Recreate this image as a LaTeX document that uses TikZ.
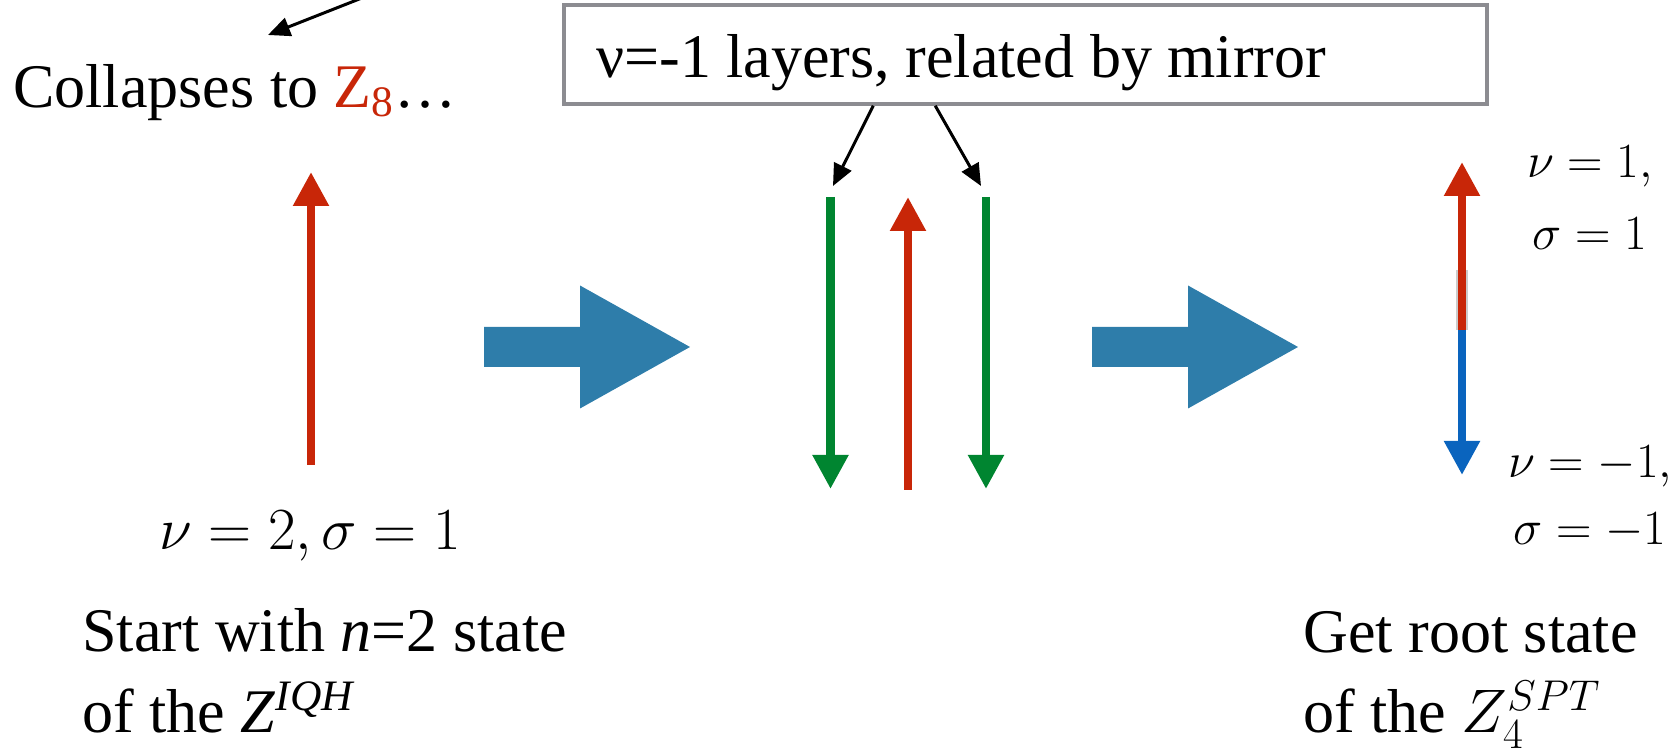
\RequirePackage{fix-cm}
\documentclass[tikz,border=0pt]{standalone}
\usepackage{fontspec}
\setmainfont{Liberation Serif}
\usetikzlibrary{arrows.meta,calc}

\definecolor{layerred}{RGB}{200,38,8}
\definecolor{layergreen}{RGB}{0,133,48}
\definecolor{layerblue}{RGB}{10,100,190}
\definecolor{stepblue}{RGB}{46,125,170}
\definecolor{framegray}{RGB}{140,140,145}

\tikzset{
  layer/.style={line width=4.7pt, -{Triangle[length=0.68cm,width=0.68cm]}},
  pointer/.style={line width=1.7pt, -{Triangle[length=0.44cm,width=0.38cm]}},
  txt/.style={font=\fontsize{35.3}{45}\selectfont, inner sep=0pt},
  lbl/.style={font=\fontsize{28}{34}\selectfont, inner sep=0pt}
}

\begin{document}
\begin{tikzpicture}
  \useasboundingbox (0,0) rectangle (33.56,15.1);

  % note in the top left corner
  \coordinate (from) at (7.39,15.2);
  \coordinate (to) at (5.36,14.4);
  \draw[pointer] (from) -- (to);
  \node[txt, anchor=base west] (collapse) at (0.26,12.95)
    {Collapses to \textcolor{layerred}{Z\textsubscript{8}}…};

  % framed caption over the middle layers
  \node[draw=framegray, line width=2pt, minimum width=18.46cm, minimum height=1.98cm]
    (frame) at (20.51,14.01) {};
  \node[txt, anchor=base west] (caption) at (11.92,13.54) {ν=-1 layers, related by mirror};
  \coordinate (tipl) at (16.66,11.38);
  \coordinate (tipr) at (19.62,11.38);
  \draw[pointer] ($(frame.south west)+(6.22,0)$) -- (tipl);
  \draw[pointer] ($(frame.south west)+(7.46,0)$) -- (tipr);

  % starting layer
  \draw[layer, layerred] (6.22,5.8) -- (6.22,11.66);
  \node[lbl, font=\fontsize{34}{40}\selectfont, anchor=base] (start) at (6.2,4.1)
    {$\nu = 2, \sigma = 1$};

  % the big steps
  \foreach \x in {9.68,21.84}
    \fill[stepblue] (\x,7.76) -- ++(1.92,0) -- ++(0,-0.83) -- ++(2.2,1.23)
      -- ++(-2.2,1.23) -- ++(0,-0.83) -- ++(-1.92,0) -- cycle;

  % three layers
  \foreach \x/\c/\a/\b in {16.61/layergreen/11.16/5.32, 18.16/layerred/5.3/11.16,
                           19.72/layergreen/11.16/5.32}
    \draw[layer, \c] (\x,\a) -- (\x,\b);

  % root state
  \draw[line width=7pt, black, opacity=0.2] (29.24,8.5) -- (29.24,9.7);
  \draw[layer, layerred] (29.24,8.5) -- (29.24,11.86);
  \draw[layer, layerblue] (29.24,8.5) -- (29.24,5.6);
  \node[lbl, anchor=base] (nua) at (31.8,11.55) {$\nu = 1,$};
  \node[lbl, anchor=base] (siga) at (31.8,10.1) {$\sigma = 1$};
  \node[lbl, anchor=base] (nub) at (31.8,5.55) {$\nu = -1,$};
  \node[lbl, anchor=base] (sigb) at (31.8,4.2) {$\sigma = -1$};

  % captions at the bottom
  \node[txt, anchor=base west] (starta) at (1.64,2.06) {Start with \textit{n}=2 state};
  \node[txt, anchor=base west] (startb) at (1.64,0.44)
    {of the \textit{Z}\textsuperscript{\textit{IQH}}};
  \node[txt, anchor=base west] (roota) at (26.06,2.04) {Get root state};
  \node[txt, anchor=base west] (rootb) at (26.06,0.44)
    {of the {\fontsize{35}{40}\selectfont$Z_4^{SPT}$}};
\end{tikzpicture}
\end{document}
